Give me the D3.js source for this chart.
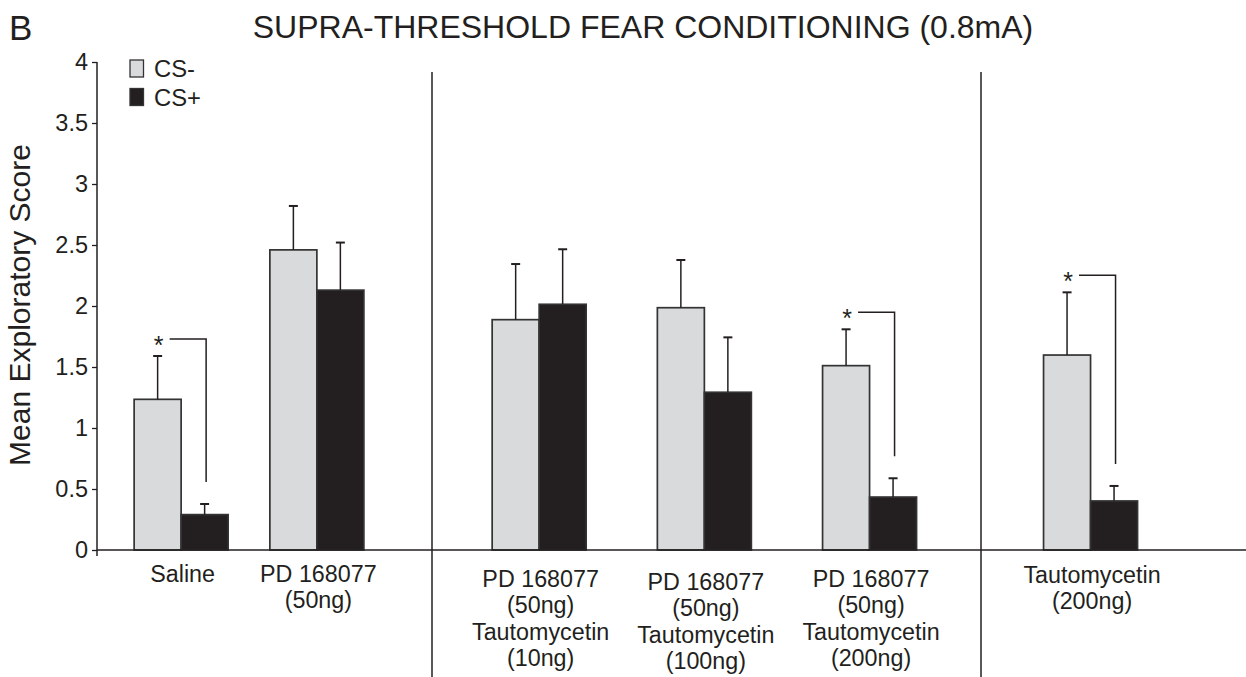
<!DOCTYPE html>
<html>
<head>
<meta charset="utf-8">
<script src="https://cdn.jsdelivr.net/npm/d3@7/dist/d3.min.js"></script>
<style>
  html, body { margin: 0; padding: 0; background: #fff; }
  svg { display: block; font-family: "Liberation Sans", Arial, Helvetica, sans-serif; }
</style>
</head>
<body>
<svg id="chart" width="1246" height="677"></svg>
<script>
// Treatment groups (label lines) and the experiment section each belongs to
const categories = [
  ["Saline"],
  ["PD 168077", "(50ng)"],
  ["PD 168077", "(50ng)", "Tautomycetin", "(10ng)"],
  ["PD 168077", "(50ng)", "Tautomycetin", "(100ng)"],
  ["PD 168077", "(50ng)", "Tautomycetin", "(200ng)"],
  ["Tautomycetin", "(200ng)"]
];
const sectionOf = [0, 0, 1, 1, 1, 2];

// Mean exploratory score and SEM for each stimulus
const csMinusMean = [1.235, 2.46, 1.888, 1.986, 1.511, 1.598];
const csMinusSem  = [0.355, 0.36, 0.456, 0.391, 0.298, 0.514];
const csPlusMean  = [0.29, 2.13, 2.014, 1.293, 0.434, 0.402];
const csPlusSem   = [0.087, 0.39, 0.451, 0.45, 0.154, 0.123];
const significant = [true, false, false, false, true, true];

const yTickValues = [0, 0.5, 1, 1.5, 2, 2.5, 3, 3.5, 4];
const yTickLabels = ["0", "0.5", "1", "1.5", "2", "2.5", "3", "3.5", "4"];
const seriesNames = ["CS-", "CS+"];

const INK = "#231f20";
const BAR_STROKE = "#333";
const FILL = { "CS-": "#d9dadc", "CS+": "#231f20" };

const svg = d3.select("#chart");

// Plot frame
const plotLeft = 97, plotRight = 1246, plotTop = 62, plotBottom = 550;
const dividers = [432, 981];

const y = d3.scaleLinear().domain([0, 4]).range([plotBottom, plotTop]);

// One band scale per experiment section
const sectionLayout = [
  { range: [plotLeft, dividers[0]], outer: 0.234, align: 0.256 },
  { range: [dividers[0], dividers[1]], outer: 0.1616, align: 0.46 },
  { range: [dividers[1], plotRight], outer: 0.302, align: 0.27 }
];
const sectionScales = sectionLayout.map((s, k) => {
  const members = categories.map((c, i) => i).filter(i => sectionOf[i] === k);
  return d3.scaleBand().domain(members).range(s.range)
    .paddingInner(0).paddingOuter(s.outer).align(s.align);
});
const center = i => {
  const sc = sectionScales[sectionOf[i]];
  return sc(i) + sc.bandwidth() / 2;
};
const barW = 47;

const groups = categories.map((c, i) => ({
  i,
  cx: center(i),
  bars: [
    { name: "CS-", mean: csMinusMean[i], sem: csMinusSem[i], x: center(i) - barW },
    { name: "CS+", mean: csPlusMean[i], sem: csPlusSem[i], x: center(i) }
  ]
}));

// Section dividers
svg.append("g").selectAll("line").data(dividers).join("line")
  .attr("x1", d => d).attr("x2", d => d)
  .attr("y1", 72).attr("y2", 677)
  .attr("stroke", INK).attr("stroke-width", 1.5);

// Bars
const barSel = svg.append("g").selectAll("g").data(groups).join("g");
barSel.selectAll("rect").data(g => g.bars).join("rect")
  .attr("x", d => d.x)
  .attr("y", d => y(d.mean))
  .attr("width", barW)
  .attr("height", d => y(0) - y(d.mean))
  .attr("fill", d => FILL[d.name])
  .attr("stroke", BAR_STROKE)
  .attr("stroke-width", 1.7);

// Upper error bars
const errSel = barSel.selectAll("g.err").data(g => g.bars).join("g").attr("class", "err");
errSel.append("line")
  .attr("x1", d => d.x + barW / 2).attr("x2", d => d.x + barW / 2)
  .attr("y1", d => y(d.mean)).attr("y2", d => y(d.mean + d.sem))
  .attr("stroke", INK).attr("stroke-width", 1.5);
errSel.append("line")
  .attr("x1", d => d.x + barW / 2 - 4.5).attr("x2", d => d.x + barW / 2 + 4.5)
  .attr("y1", d => y(d.mean + d.sem)).attr("y2", d => y(d.mean + d.sem))
  .attr("stroke", INK).attr("stroke-width", 2);

// Significance brackets
const sig = groups.filter(g => significant[g.i]);
const brk = svg.append("g").selectAll("g").data(sig).join("g");
brk.each(function (g) {
  const a = g.bars[0], b = g.bars[1];
  const yTopBr = y(a.mean + a.sem) - 17;
  const yLow = y(b.mean + b.sem) - 22;
  const xa = a.x + barW / 2, xb = b.x + barW / 2 + 1.5;
  const sel = d3.select(this);
  sel.append("path")
    .attr("d", `M${xa + 12},${yTopBr}H${xb}V${yLow}`)
    .attr("fill", "none").attr("stroke", INK).attr("stroke-width", 1.5);
  sel.append("text")
    .attr("x", xa + 1).attr("y", yTopBr + 15)
    .attr("text-anchor", "middle")
    .attr("font-size", 25).attr("fill", INK)
    .text("*");
});

// X axis line
svg.append("line")
  .attr("x1", plotLeft).attr("x2", plotRight)
  .attr("y1", y(0)).attr("y2", y(0))
  .attr("stroke", INK).attr("stroke-width", 1.5);

// Y axis
const yAxis = d3.axisLeft(y)
  .tickValues(yTickValues)
  .tickFormat((d, k) => yTickLabels[k])
  .tickSize(5).tickSizeOuter(0).tickPadding(4);
const yg = svg.append("g").attr("transform", `translate(${plotLeft},0)`).call(yAxis);
yg.select(".domain").attr("d", `M0,${plotTop}V${y(0) + 6}`)
  .attr("stroke", INK).attr("stroke-width", 1.5);
yg.selectAll(".tick line").attr("stroke", INK).attr("stroke-width", 1.3);
yg.selectAll(".tick text")
  .attr("font-size", 23.5).attr("fill", INK)
  .attr("font-family", "Liberation Sans, Arial, sans-serif");

// Group labels: taller label stacks sit slightly lower under the axis
const labelDrop = [0, 0, 5, 8, 5, 1];
const lab = svg.append("g").selectAll("text").data(groups).join("text")
  .attr("text-anchor", "middle")
  .attr("font-size", 23.3).attr("fill", INK);
lab.selectAll("tspan").data(g => categories[g.i].map(t => ({ t, cx: g.cx, drop: labelDrop[g.i] }))).join("tspan")
  .attr("x", d => d.cx + 1.5)
  .attr("y", (d, k) => 582 + d.drop + k * 26.4)
  .text(d => d.t);

// Y axis title
svg.append("text")
  .attr("transform", "translate(30,305) rotate(-90)")
  .attr("text-anchor", "middle")
  .attr("font-size", 30).attr("fill", INK)
  .text("Mean Exploratory Score");

// Chart title and panel letter
svg.append("text")
  .attr("x", 643).attr("y", 38)
  .attr("text-anchor", "middle")
  .attr("font-size", 32).attr("fill", INK)
  .text("SUPRA-THRESHOLD FEAR CONDITIONING (0.8mA)");
svg.append("text")
  .attr("x", 9).attr("y", 40)
  .attr("font-size", 35).attr("fill", INK)
  .text("B");

// Legend
const leg = svg.append("g").selectAll("g").data(seriesNames).join("g")
  .attr("transform", (d, k) => `translate(130,${60 + k * 28.5})`);
leg.append("rect")
  .attr("width", 13.5).attr("height", 17)
  .attr("fill", d => FILL[d]).attr("stroke", BAR_STROKE).attr("stroke-width", 1.3);
leg.append("text")
  .attr("x", 24).attr("y", 17)
  .attr("font-size", 23.8).attr("fill", INK)
  .text(d => d);
</script>
</body>
</html>
